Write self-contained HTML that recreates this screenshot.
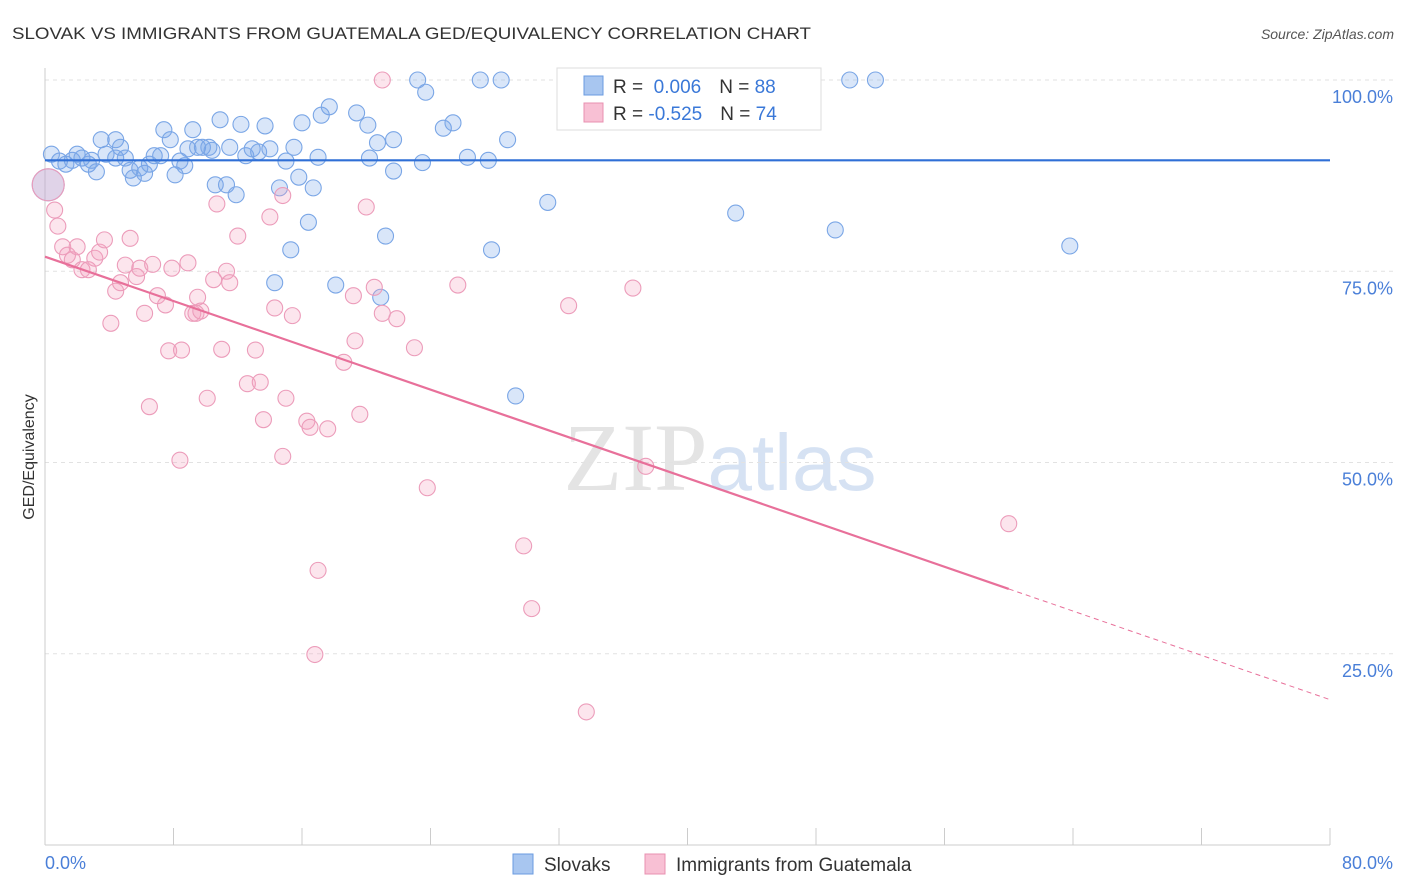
<!DOCTYPE html>
<html><head><meta charset="utf-8"><style>
body{margin:0;background:#fff;font-family:"Liberation Sans",sans-serif;}
#wrap{position:relative;width:1406px;height:892px;overflow:hidden}
</style></head><body>
<div id="wrap">
<svg id="svg" width="1406" height="892" xmlns="http://www.w3.org/2000/svg">
<text x="12" y="39" font-size="17" fill="#333" textLength="799" lengthAdjust="spacingAndGlyphs">SLOVAK VS IMMIGRANTS FROM GUATEMALA GED/EQUIVALENCY CORRELATION CHART</text>
<text x="1394" y="39" font-size="14" fill="#555" font-style="italic" text-anchor="end">Source: ZipAtlas.com</text>
<text x="720" y="490" font-size="96" fill="#e4e4e4" text-anchor="middle" font-family="Liberation Serif,serif">ZIP<tspan fill="#d6e2f3" font-family="Liberation Sans,sans-serif" font-size="80">atlas</tspan></text>
<text transform="translate(34,457) rotate(-90)" font-size="16" fill="#333" text-anchor="middle">GED/Equivalency</text>
<g id="grid"></g><g id="pts"></g><g id="lines"></g>
<g>
<rect x="557" y="68" width="264" height="62" fill="#fff" stroke="#ddd"/>
<rect x="584" y="76" width="19" height="19" fill="#a8c6f0" stroke="#6a9be0"/>
<rect x="584" y="103" width="19" height="19" fill="#f8c0d4" stroke="#e890b0"/>
<text x="613" y="93" font-size="19" fill="#333">R = <tspan fill="#3a78d8">&#160;0.006</tspan><tspan dx="18">N = </tspan><tspan fill="#3a78d8">88</tspan></text>
<text x="613" y="120" font-size="19" fill="#333">R = <tspan fill="#3a78d8">-0.525</tspan><tspan dx="18">N = </tspan><tspan fill="#3a78d8">74</tspan></text>
</g>
<g>
<rect x="513" y="854" width="20" height="20" fill="#a8c6f0" stroke="#6a9be0"/>
<text x="544" y="871" font-size="19" fill="#333">Slovaks</text>
<rect x="645" y="854" width="20" height="20" fill="#f8c0d4" stroke="#e890b0"/>
<text x="676" y="871" font-size="19" fill="#333">Immigrants from Guatemala</text>
</g>
</svg></div>
<script>
const yTicks=[100,75,50,25];
const yTickLabels=["100.0%","75.0%","50.0%","25.0%"];
const xTickLabels=["0.0%","80.0%"];
const blueX=[0.4,0.9,1.3,1.7,2.0,2.3,2.7,2.9,3.2,3.5,3.8,4.4,4.4,4.7,5.0,5.3,5.5,5.9,6.2,6.5,6.8,7.2,7.4,7.8,8.1,8.4,8.7,8.9,9.2,9.5,9.8,10.2,10.4,10.6,10.9,11.3,11.5,11.9,12.2,12.5,12.9,13.3,13.7,14.0,14.3,14.6,15.0,15.3,15.5,15.8,16.0,16.4,16.7,17.0,17.2,17.7,18.1,19.4,20.1,20.2,20.7,20.9,21.2,21.7,21.7,23.2,23.5,23.7,24.8,25.4,26.3,27.1,27.6,27.8,28.4,28.8,29.3,31.3,36.1,38.0,43.0,49.2,50.1,51.7,63.8,0.2];
const blueY=[90.3,89.4,89.0,89.5,90.3,89.8,89.0,89.5,88.0,92.2,90.3,92.2,89.8,91.2,89.8,88.2,87.2,88.5,87.8,89.0,90.1,90.1,93.5,92.2,87.6,89.4,88.8,91.0,93.5,91.2,91.2,91.2,90.8,86.3,94.8,86.3,91.2,85.0,94.2,90.1,91.0,90.6,94.0,91.0,73.5,85.9,89.4,77.8,91.2,87.3,94.4,81.4,85.9,89.9,95.4,96.5,73.2,95.7,94.1,89.8,91.8,71.6,79.6,92.2,88.1,100,89.2,98.4,93.7,94.4,89.9,100,89.5,77.8,100,92.2,58.7,84.0,100,100,82.6,80.4,100,100,78.3,86.3];
const pinkX=[0.2,0.6,0.8,1.1,1.4,1.7,2.0,2.3,2.7,3.1,3.4,3.7,4.1,4.4,4.7,5.0,5.3,5.7,5.9,6.2,6.5,6.7,7.0,7.5,7.7,7.9,8.4,8.5,8.9,9.2,9.4,9.5,9.7,10.1,10.5,10.7,11.0,11.3,11.5,12.0,12.6,13.1,13.4,13.6,14.0,14.3,14.8,14.8,15.0,15.4,16.3,16.5,16.8,17.0,17.6,18.6,19.2,19.3,19.6,20.0,20.5,21.0,21.0,21.9,23.0,23.8,25.7,29.8,30.3,32.6,33.7,36.6,37.4,60.0];
const pinkY=[86.3,83.0,80.9,78.2,77.1,76.5,78.2,75.2,75.2,76.7,77.5,79.1,68.2,72.4,73.5,75.8,79.3,74.3,75.4,69.5,57.3,75.9,71.8,70.6,64.6,75.4,50.3,64.7,76.1,69.5,69.5,71.6,69.8,58.4,73.9,83.8,64.8,75.0,73.5,79.6,60.3,64.7,60.5,55.6,82.1,70.2,84.9,50.8,58.4,69.2,55.4,54.6,24.9,35.9,54.4,63.1,71.8,65.9,56.3,83.4,72.9,69.5,100,68.8,65.0,46.7,73.2,39.1,30.9,70.5,17.4,72.8,49.5,42.0];
const blueTrend=[89.5,89.5];
const pinkTrend=[76.9,19.0];
const X0=45,X1=1330,Y0=80,PY=7.65;
const sx=v=>X0+v*(X1-X0)/80, sy=v=>Y0+(100-v)*PY;
const NS="http://www.w3.org/2000/svg";
function mk(t,a,p){const e=document.createElementNS(NS,t);for(const k in a)e.setAttribute(k,a[k]);p.appendChild(e);return e;}
const grid=document.getElementById('grid');
yTicks.forEach((t,i)=>{
 const l=mk('line',{x1:X0,x2:1393,y1:sy(t),y2:sy(t),stroke:'#e2e2e2','stroke-dasharray':'4,4'},grid);
 
 
 const tx=mk('text',{x:1393,y:sy(t)+23,'font-size':18,fill:'#4a7fd8','text-anchor':'end'},grid);
 tx.textContent=yTickLabels[i];
 
 
});
const ax=mk('line',{x1:X0,x2:X1,y1:845,y2:845,stroke:'#ccc'},grid);


const ay=mk('line',{x1:X0,x2:X0,y1:68,y2:845,stroke:'#ccc'},grid);


for(let v=0;v<=80;v+=8){const t=mk('line',{x1:sx(v),x2:sx(v),y1:828,y2:845,stroke:'#ccc'},grid);
 
 }
[[0,'start',X0],[80,'end',1393]].forEach((d,i)=>{const t=mk('text',{x:d[2],y:869,'font-size':18,fill:'#4a7fd8','text-anchor':d[1]},grid);t.textContent=xTickLabels[i];
 
 });
const pts=document.getElementById('pts');
blueX.forEach((x,i)=>{const c=mk('circle',{cx:sx(x),cy:sy(blueY[i]),r:i==blueX.length-1?16:8,fill:'rgba(120,165,235,0.28)',stroke:'#7aa6e6','stroke-width':1.1},pts);
 
 });
pinkX.forEach((x,i)=>{const c=mk('circle',{cx:sx(x),cy:sy(pinkY[i]),r:i==0?16:8,fill:'rgba(245,160,190,0.28)',stroke:'#ec9cba','stroke-width':1.1},pts);
 
 });
const lines=document.getElementById('lines');
const bl=mk('line',{x1:sx(0),x2:sx(80),y1:sy(blueTrend[0]),y2:sy(blueTrend[1]),stroke:'#2f6fd6','stroke-width':2.2},lines);


const pAt=x=>pinkTrend[0]+(pinkTrend[1]-pinkTrend[0])*x/80;
const pl=mk('line',{x1:sx(0),x2:sx(60),y1:sy(pAt(0)),y2:sy(pAt(60)),stroke:'#e8709a','stroke-width':2.2},lines);


const pd=mk('line',{x1:sx(60),x2:sx(80),y1:sy(pAt(60)),y2:sy(pAt(80)),stroke:'#e8709a','stroke-width':1,'stroke-dasharray':'5,4'},lines);


</script>
</body></html>
